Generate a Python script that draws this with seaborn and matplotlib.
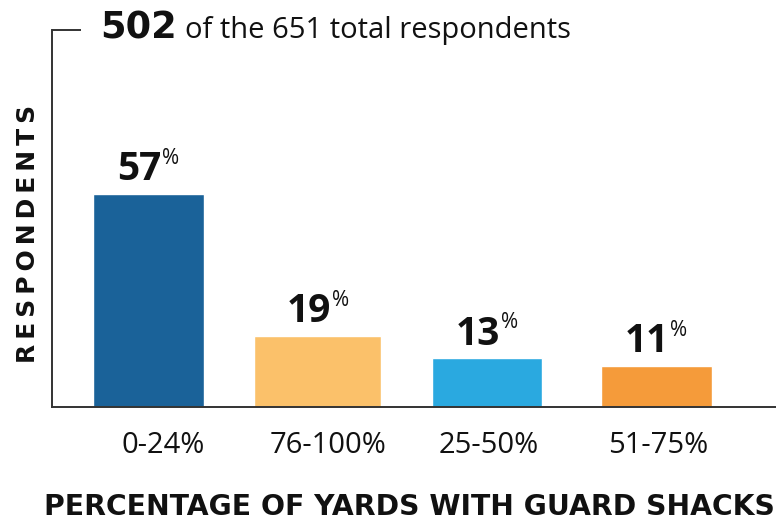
import matplotlib.pyplot as plt
import matplotlib.transforms as mtransforms
import pandas as pd
import seaborn as sns

categories = ["0-24%", "76-100%", "25-50%", "51-75%"]
shares = [57, 19, 13, 11]
colors = ["#1a6299", "#fbc16a", "#2aa9e0", "#f59b3a"]
bar_widths = [0.655, 0.75, 0.655, 0.655]
tick_shift_px = [15, 10, 2, 2]
answered = 502
total = 651

sns.set_style("white")
plt.rcParams["font.family"] = ["Open Sans", "DejaVu Sans"]
ink = "#111111"
heading_font = ["DejaVu Sans"]

df = pd.DataFrame({"range": categories, "share": shares})

fig = plt.figure(figsize=(7.76, 5.21), dpi=100)
ax = fig.add_axes([0.067, 0.219, 0.94, 0.723])

sns.barplot(data=df, x="range", y="share", hue="range", palette=colors,
            width=0.655, saturation=1, legend=False, ax=ax)

# the second bar is a bit wider in the original
for patch, w in zip(ax.patches, bar_widths):
    cx = patch.get_x() + patch.get_width() / 2
    patch.set_x(cx - w / 2)
    patch.set_width(w)

ax.set_xlim(-0.571, 3.74)
ax.set_ylim(0, 101)

# percentage labels over bars, number + small raised %
for i, val in enumerate(shares):
    num = ax.annotate(str(val), (i, val), xytext=(-6.5, 10), textcoords="offset points",
                      ha="center", va="baseline", fontsize=28, fontweight="bold", color=ink)
    ax.annotate("%", xy=(1, 1), xycoords=num, xytext=(0.5, 1.5), textcoords="offset points",
                ha="left", va="top", fontsize=15, color=ink)

for side in ["top", "right"]:
    ax.spines[side].set_visible(False)
for side in ["left", "bottom"]:
    ax.spines[side].set_color("#333333")
    ax.spines[side].set_linewidth(1.4)

# short tick at top of the axis
ax.set_yticks([101])
ax.set_yticklabels([""])
ax.tick_params(axis="y", direction="in", length=21, width=1.4, color="#333333", left=True)
ax.tick_params(axis="x", length=0, labelsize=21, pad=17, labelcolor=ink)

for lab, dx in zip(ax.get_xticklabels(), tick_shift_px):
    lab.set_transform(lab.get_transform() + mtransforms.Affine2D().translate(dx, 0))

ax.set_xlabel("")
ax.set_ylabel("")

fig.text(0.129, 0.927, str(answered), fontsize=26.5, fontweight="bold", color=ink,
         family=heading_font, ha="left", va="baseline")
fig.text(0.239, 0.927, f"of the {total} total respondents", fontsize=21, color=ink,
         ha="left", va="baseline")

fig.text(0.036, 0.551, "\u2009".join("RESPONDENTS"), rotation=90, family=heading_font,
         fontsize=18, fontweight="bold", color=ink, ha="center", va="center")
fig.text(0.528, 0.027, "PERCENTAGE OF YARDS WITH GUARD SHACKS", fontsize=20.3,
         family=heading_font, fontweight="bold", color=ink, ha="center", va="center")

fig.savefig("out.png", dpi=100)
